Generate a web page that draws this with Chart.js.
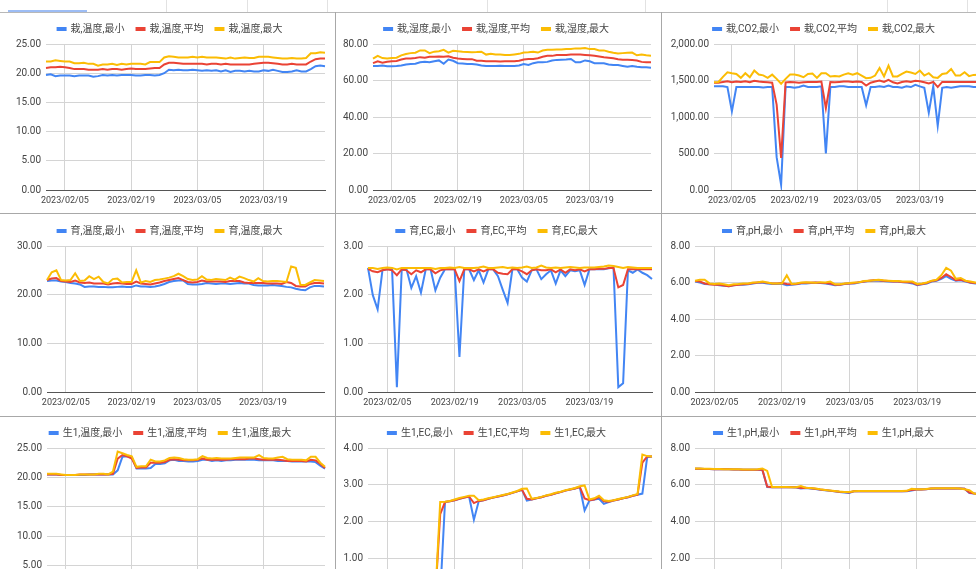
<!DOCTYPE html>
<html>
<head>
<meta charset="utf-8">
<script src="https://cdn.jsdelivr.net/npm/chart.js@4.4.1/dist/chart.umd.min.js"></script>
<style>
  html, body { margin: 0; padding: 0; width: 976px; height: 569px; overflow: hidden; background: #fff; }
  body { position: relative; }
  .rule { position: absolute; background: #a8a8a8; }
  .hdr { position: absolute; background: #e2e2e2; }
</style>
</head>
<body>
<div class="hdr" style="left:166px;top:0;width:1px;height:12px"></div>
<div class="hdr" style="left:247px;top:0;width:1px;height:12px"></div>
<div class="hdr" style="left:327px;top:0;width:1px;height:12px"></div>
<div class="hdr" style="left:487px;top:0;width:1px;height:12px"></div>
<div class="hdr" style="left:645px;top:0;width:1px;height:12px"></div>
<div class="hdr" style="left:887px;top:0;width:1px;height:12px"></div>
<div class="hdr" style="left:967px;top:0;width:1px;height:12px"></div>
<div class="rule" style="left:0;top:12px;width:976px;height:1px;background:#b8b8b8"></div>
<div class="rule" style="left:8px;top:10px;width:79px;height:2px;background:#9dbdf5"></div>
<div class="rule" style="left:335px;top:12px;width:1px;height:557px"></div>
<div class="rule" style="left:661px;top:12px;width:1px;height:557px"></div>
<div class="rule" style="left:0;top:213px;width:976px;height:1px"></div>
<div class="rule" style="left:0;top:416px;width:976px;height:1px"></div>

<script>
const dates = [
  "2023/02/01","2023/02/02","2023/02/03","2023/02/04","2023/02/05","2023/02/06","2023/02/07","2023/02/08","2023/02/09","2023/02/10",
  "2023/02/11","2023/02/12","2023/02/13","2023/02/14","2023/02/15","2023/02/16","2023/02/17","2023/02/18","2023/02/19","2023/02/20",
  "2023/02/21","2023/02/22","2023/02/23","2023/02/24","2023/02/25","2023/02/26","2023/02/27","2023/02/28","2023/03/01","2023/03/02",
  "2023/03/03","2023/03/04","2023/03/05","2023/03/06","2023/03/07","2023/03/08","2023/03/09","2023/03/10","2023/03/11","2023/03/12",
  "2023/03/13","2023/03/14","2023/03/15","2023/03/16","2023/03/17","2023/03/18","2023/03/19","2023/03/20","2023/03/21","2023/03/22",
  "2023/03/23","2023/03/24","2023/03/25","2023/03/26","2023/03/27","2023/03/28","2023/03/29","2023/03/30","2023/03/31","2023/04/01"
];
const xTickLabels = ["2023/02/05", "2023/02/19", "2023/03/05", "2023/03/19"];
const statNames = ["最小", "平均", "最大"];

// 栽 温度
const saiTempMin = [19.7,19.8,19.5,19.6,19.6,19.6,19.5,19.6,19.6,19.6, 19.4,19.5,19.7,19.6,19.7,19.6,19.7,19.7,19.7,19.6,
  19.6,19.7,19.7,19.6,19.7,20.0,20.6,20.5,20.6,20.5, 20.5,20.6,20.5,20.4,20.5,20.4,20.5,20.3,20.5,20.2,
  20.4,20.4,20.3,20.4,20.3,20.3,20.5,20.4,20.6,20.4, 20.2,20.2,20.3,20.5,20.3,20.3,20.7,21.2,21.3,21.2];
const saiTempAvg = [20.9,21.0,21.0,21.1,21.0,20.9,20.7,20.7,20.7,20.6, 20.6,20.6,20.7,20.6,20.7,20.7,20.6,20.7,20.8,20.7,
  20.7,20.7,20.8,20.9,20.9,21.5,21.8,21.8,21.7,21.6, 21.6,21.6,21.6,21.6,21.5,21.6,21.6,21.5,21.6,21.5,
  21.5,21.5,21.5,21.5,21.6,21.7,21.8,21.8,21.7,21.6, 21.5,21.5,21.6,21.5,21.5,21.5,22.0,22.4,22.5,22.5];
const saiTempMax = [22.0,22.0,22.2,22.1,22.0,22.0,21.7,21.7,21.8,21.6, 21.6,21.3,21.5,21.5,21.6,21.4,21.6,21.5,21.6,21.6,
  21.6,21.5,21.9,21.9,21.9,22.7,22.9,22.8,22.7,22.7, 22.7,22.8,22.7,22.8,22.7,22.7,22.7,22.6,22.5,22.7,
  22.5,22.6,22.7,22.6,22.6,22.8,22.8,22.8,22.7,22.6, 22.5,22.5,22.6,22.5,22.5,22.6,23.4,23.4,23.6,23.5];

// 栽 湿度
const saiHumMin = [68.0,68.0,68.2,67.8,67.8,67.9,68.2,68.8,69.0,69.2, 70.0,70.3,70.0,70.5,71.0,69.2,71.5,70.8,69.5,69.3,
  69.0,69.0,68.8,68.2,68.0,68.0,68.0,68.1,68.0,68.0, 68.0,68.2,69.0,68.5,69.5,70.0,70.0,70.2,71.0,71.3,
  71.4,71.5,71.8,70.0,70.0,71.0,70.5,69.5,69.5,69.5, 68.8,68.5,68.5,68.0,67.5,68.0,67.5,67.2,67.2,67.0];
const saiHumAvg = [69.5,70.5,69.8,70.3,70.6,70.7,71.5,72.0,72.0,72.3, 72.8,72.5,73.0,73.0,73.2,73.0,73.3,72.5,72.0,71.8,
  71.6,71.7,70.8,70.8,70.5,70.5,70.5,70.4,70.5,70.5, 70.5,70.8,71.5,71.8,71.8,72.2,73.0,73.5,73.5,74.0,
  74.0,74.0,74.2,74.2,74.2,74.0,73.8,73.6,73.2,72.8, 72.5,72.2,71.7,71.4,71.4,71.2,71.0,70.2,70.0,70.0];
const saiHumMax = [72.0,73.5,72.3,72.0,72.3,72.5,73.8,74.5,75.0,75.2, 76.5,76.5,75.0,75.8,76.0,76.8,75.3,76.3,76.0,75.7,
  75.6,75.5,75.6,75.8,74.2,74.7,74.2,74.3,74.0,74.0, 74.3,74.6,75.3,75.5,75.8,75.3,76.4,76.8,76.8,77.0,
  77.0,77.3,77.2,77.6,77.5,77.8,77.2,77.2,76.5,76.5, 75.8,75.2,74.8,75.0,75.2,75.3,73.8,74.2,73.8,73.5];

// 栽 CO2
const saiCo2Min = [1420,1420,1420,1410,1080,1410,1410,1410,1410,1410, 1410,1405,1410,1410,450,70,1410,1410,1400,1410,
  1430,1410,1410,1410,1420,500,1410,1410,1420,1420, 1410,1410,1410,1410,1160,1410,1410,1420,1410,1430,
  1410,1410,1400,1420,1410,1440,1420,1400,1060,1420, 880,1400,1410,1400,1410,1420,1420,1420,1410,1410];
const saiCo2Avg = [1470,1470,1480,1490,1475,1485,1480,1490,1475,1495, 1485,1480,1475,1470,1170,440,1475,1480,1475,1470,
  1475,1480,1480,1480,1485,1120,1480,1475,1480,1485, 1485,1480,1485,1480,1430,1470,1485,1500,1480,1510,
  1475,1460,1480,1490,1480,1495,1490,1475,1460,1480, 1410,1480,1480,1480,1480,1480,1480,1480,1480,1480];
const saiCo2Max = [1477,1480,1550,1613,1600,1590,1536,1600,1545,1636, 1581,1570,1536,1580,1522,1455,1522,1581,1581,1568,
  1545,1590,1595,1536,1600,1600,1555,1560,1555,1580, 1600,1580,1600,1568,1532,1536,1568,1672,1555,1705,
  1555,1555,1590,1622,1609,1590,1636,1568,1600,1545, 1536,1590,1600,1658,1568,1568,1613,1560,1577,1580];

// 育 温度
const ikuTempMin = [22.8,22.9,22.9,22.7,22.6,22.4,22.3,22.1,21.6,21.7, 21.7,21.6,21.6,21.5,21.5,21.6,21.7,21.6,21.6,21.9,
  21.7,21.7,21.6,21.7,21.9,22.2,22.6,22.8,22.9,22.9, 22.2,22.1,22.1,22.2,22.4,22.3,22.2,22.3,22.3,22.2,
  22.3,22.4,22.3,22.3,22.0,21.9,21.9,21.9,22.0,21.9, 21.8,21.6,21.5,21.2,21.0,20.9,21.5,21.8,21.8,21.7];
const ikuTempAvg = [23.0,23.3,23.4,22.8,22.7,22.6,22.9,22.5,22.4,22.5, 22.3,22.3,22.3,22.1,22.3,22.4,22.3,22.2,22.2,22.7,
  22.3,22.2,22.1,22.3,22.5,22.8,23.0,23.2,23.4,23.0, 22.6,22.5,22.6,22.9,22.7,22.7,22.7,22.7,22.6,22.8,
  22.8,22.8,22.5,22.4,22.4,22.4,22.4,22.3,22.3,22.3, 22.2,22.6,22.4,21.8,21.7,21.7,22.2,22.4,22.4,22.3];
const ikuTempMax = [23.0,24.6,25.0,23.0,22.9,23.0,24.4,22.8,22.9,23.8, 23.2,23.7,22.6,22.3,23.2,23.3,22.5,22.6,22.6,25.0,
  22.5,22.8,22.6,23.0,23.1,23.3,23.5,23.8,24.3,23.8, 23.2,23.0,23.1,23.8,23.1,23.0,23.2,23.1,23.0,23.5,
  23.1,23.7,23.4,23.0,22.7,23.4,22.8,22.7,22.8,22.8, 22.7,22.6,25.8,25.5,22.0,22.0,22.5,23.0,22.9,22.8];

// 育 EC
const ikuEcMin = [2.55,1.99,1.70,2.50,2.52,2.52,0.10,2.50,2.52,2.14, 2.38,2.04,2.52,2.52,2.09,2.35,2.52,2.52,2.52,0.72,
  2.52,2.52,2.30,2.50,2.25,2.52,2.52,2.38,2.10,1.83, 2.52,2.52,2.35,2.27,2.50,2.52,2.32,2.42,2.50,2.23,
  2.50,2.38,2.50,2.48,2.50,2.20,2.52,2.52,2.52,2.52, 2.54,2.56,0.10,0.18,2.50,2.45,2.52,2.45,2.40,2.32];
const ikuEcAvg = [2.53,2.48,2.46,2.50,2.52,2.50,2.40,2.52,2.50,2.42, 2.50,2.46,2.52,2.52,2.44,2.50,2.52,2.52,2.52,2.28,
  2.52,2.52,2.48,2.52,2.48,2.52,2.52,2.45,2.43,2.42, 2.52,2.52,2.48,2.42,2.50,2.52,2.50,2.50,2.52,2.46,
  2.52,2.45,2.52,2.50,2.52,2.48,2.52,2.52,2.53,2.53, 2.55,2.55,2.15,2.20,2.52,2.52,2.52,2.52,2.52,2.52];
const ikuEcMax = [2.55,2.55,2.53,2.55,2.56,2.55,2.52,2.55,2.55,2.55, 2.55,2.55,2.55,2.55,2.53,2.55,2.55,2.56,2.55,2.57,
  2.55,2.55,2.55,2.56,2.58,2.55,2.55,2.56,2.57,2.55, 2.56,2.55,2.56,2.58,2.55,2.56,2.60,2.56,2.55,2.56,
  2.55,2.56,2.57,2.56,2.55,2.56,2.56,2.56,2.57,2.58, 2.60,2.59,2.57,2.55,2.57,2.56,2.55,2.55,2.55,2.55];

// 育 pH
const ikuPhMin = [6.05,6.00,5.92,5.90,5.90,5.85,5.82,5.80,5.85,5.88, 5.88,5.90,5.95,5.98,5.98,5.95,5.92,5.92,5.93,5.85,
  5.88,5.90,5.95,5.95,5.97,5.98,5.97,5.95,5.90,5.85, 5.88,5.92,5.95,5.95,6.00,6.05,6.08,6.10,6.10,6.08,
  6.06,6.05,6.05,6.02,6.00,5.95,5.85,5.90,5.95,6.05, 6.10,6.20,6.35,6.20,6.10,6.12,6.05,5.98,5.95,5.95];
const ikuPhAvg = [6.08,6.05,5.95,5.90,5.88,5.87,5.83,5.80,5.85,5.88, 5.90,5.92,5.97,6.00,6.02,5.98,5.95,5.95,5.97,5.92,
  5.90,5.92,5.97,5.98,5.98,6.00,5.98,5.97,5.95,5.88, 5.88,5.93,5.95,5.97,6.02,6.06,6.10,6.12,6.12,6.10,
  6.08,6.06,6.06,6.03,6.02,6.00,5.88,5.92,5.97,6.08, 6.12,6.25,6.45,6.30,6.12,6.15,6.08,6.00,5.97,5.97];
const ikuPhMax = [6.10,6.15,6.15,5.95,5.92,5.95,5.90,5.85,5.90,5.92, 5.95,5.95,6.00,6.02,6.05,6.00,5.95,5.95,5.95,6.40,
  5.92,5.95,6.00,6.02,6.00,5.98,6.02,6.00,6.05,5.90, 5.90,5.95,5.97,6.00,6.02,6.08,6.10,6.12,6.15,6.12,
  6.10,6.08,6.08,6.05,6.05,6.05,5.92,5.95,6.00,6.10, 6.15,6.40,6.80,6.65,6.20,6.25,6.10,6.05,6.00,6.00];

// 生1 温度
const sei1TempMin = [20.5,20.5,20.5,20.4,20.4,20.4,20.4,20.4,20.4,20.5, 20.5,20.5,20.5,20.5,20.5,21.2,23.5,23.6,23.4,21.5,
  21.5,21.5,21.6,22.3,22.3,22.4,22.9,23.0,22.8,22.8, 22.7,22.7,22.8,23.0,23.0,22.8,22.9,22.8,22.9,22.9,
  23.0,23.0,23.0,23.0,23.0,22.9,22.9,22.9,22.9,22.8, 22.8,22.8,22.7,22.7,22.7,22.7,22.7,22.6,22.0,21.5];
const sei1TempAvg = [20.5,20.5,20.5,20.4,20.4,20.4,20.4,20.5,20.5,20.5, 20.5,20.5,20.5,20.5,20.6,23.2,23.8,23.6,23.2,21.6,
  21.7,21.7,22.5,22.5,22.5,22.6,23.0,23.1,23.0,22.9, 22.9,22.9,23.0,23.2,23.0,23.0,23.0,23.0,23.0,23.1,
  23.1,23.1,23.1,23.2,23.2,23.1,23.0,23.0,23.0,23.0, 22.9,22.8,22.8,22.8,22.8,22.7,23.0,22.9,22.3,21.6];
const sei1TempMax = [20.6,20.6,20.6,20.5,20.4,20.4,20.4,20.5,20.5,20.5, 20.5,20.6,20.6,20.5,21.0,24.4,24.1,23.8,23.6,21.8,
  21.9,21.9,23.0,22.7,22.7,22.9,23.3,23.4,23.3,23.1, 23.0,23.0,23.1,23.6,23.3,23.2,23.3,23.2,23.2,23.2,
  23.3,23.4,23.4,23.4,23.4,23.8,23.3,23.2,23.2,23.4, 23.5,23.1,23.0,23.0,23.0,22.9,23.5,23.5,22.5,21.8];

// 生1 EC
const sei1EcMin = [0,0,0,0,0,0,0,0,0,0, 0,0,0,0,0,0,2.53,2.55,2.58,2.62,
  2.65,2.68,2.05,2.55,2.58,2.62,2.65,2.68,2.71,2.74, 2.78,2.82,2.86,2.57,2.60,2.63,2.66,2.70,2.73,2.77,
  2.80,2.84,2.87,2.90,2.94,2.30,2.57,2.60,2.62,2.48, 2.53,2.57,2.60,2.63,2.66,2.70,2.73,2.76,3.75,3.77];
const sei1EcAvg = [0,0,0,0,0,0,0,0,0,0, 0,0,0,0,0,2.20,2.53,2.55,2.58,2.62,
  2.65,2.68,2.50,2.56,2.58,2.62,2.65,2.68,2.71,2.74, 2.78,2.82,2.86,2.62,2.60,2.63,2.66,2.70,2.73,2.77,
  2.80,2.84,2.87,2.90,2.94,2.63,2.58,2.60,2.67,2.55, 2.54,2.57,2.60,2.63,2.66,2.70,2.73,3.60,3.77,3.77];
const sei1EcMax = [0,0,0,0,0,0,0,0,0,0, 0,0,0,0,0,2.53,2.54,2.56,2.60,2.64,
  2.67,2.70,2.70,2.58,2.60,2.63,2.66,2.69,2.72,2.75, 2.79,2.83,2.89,2.90,2.62,2.64,2.67,2.71,2.74,2.78,
  2.81,2.85,2.88,2.91,2.96,2.98,2.60,2.63,2.70,2.58, 2.56,2.58,2.61,2.64,2.67,2.71,2.75,3.82,3.78,3.77];

// 生1 pH
const sei1PhMin = [6.87,6.87,6.86,6.86,6.85,6.85,6.84,6.84,6.83,6.83, 6.82,6.82,6.82,6.82,6.80,5.88,5.87,5.87,5.87,5.87,
  5.86,5.85,5.80,5.82,5.80,5.77,5.73,5.70,5.67,5.64, 5.61,5.58,5.55,5.64,5.65,5.65,5.65,5.65,5.65,5.65,
  5.65,5.64,5.64,5.64,5.65,5.68,5.74,5.74,5.75,5.78, 5.79,5.80,5.80,5.80,5.80,5.80,5.78,5.55,5.52,5.50];
const sei1PhAvg = [6.87,6.87,6.86,6.86,6.85,6.85,6.84,6.84,6.83,6.83, 6.82,6.82,6.82,6.82,6.82,5.90,5.87,5.87,5.87,5.87,
  5.86,5.86,5.82,5.83,5.81,5.78,5.74,5.71,5.68,5.65, 5.62,5.60,5.58,5.64,5.65,5.65,5.65,5.65,5.65,5.65,
  5.65,5.65,5.65,5.65,5.66,5.72,5.74,5.74,5.76,5.79, 5.80,5.80,5.80,5.80,5.80,5.80,5.78,5.58,5.52,5.50];
const sei1PhMax = [6.88,6.88,6.87,6.87,6.86,6.86,6.85,6.85,6.84,6.84, 6.83,6.83,6.83,6.84,6.88,6.75,5.88,5.88,5.88,5.88,
  5.87,5.87,5.93,5.84,5.82,5.79,5.75,5.72,5.69,5.66, 5.63,5.61,5.60,5.65,5.66,5.66,5.66,5.66,5.66,5.66,
  5.66,5.66,5.66,5.66,5.67,5.78,5.75,5.75,5.77,5.80, 5.81,5.81,5.81,5.81,5.81,5.80,5.75,5.70,5.52,5.50];

const lineColors = ["#4285f4", "#ea4335", "#fbbc04"];

// where each small chart sits on the page
const panels = [
  { prefix: "栽,温度", series: [saiTempMin, saiTempAvg, saiTempMax], yMax: 25, yStep: 5, left: 0, top: 10, w: 327, h: 200, padL: 15, yW: 31 },
  { prefix: "栽,湿度", series: [saiHumMin, saiHumAvg, saiHumMax], yMax: 80, yStep: 20, left: 336, top: 10, w: 317, h: 200, padL: 6, yW: 31 },
  { prefix: "栽,CO2", series: [saiCo2Min, saiCo2Avg, saiCo2Max], yMax: 2000, yStep: 500, left: 661, top: 10, w: 319, h: 200, padL: 9, yW: 44 },
  { prefix: "育,温度", series: [ikuTempMin, ikuTempAvg, ikuTempMax], yMax: 30, yStep: 10, left: 0, top: 212, w: 326, h: 200, padL: 16, yW: 31 },
  { prefix: "育,EC", series: [ikuEcMin, ikuEcAvg, ikuEcMax], yMax: 3, yStep: 1, left: 336, top: 212, w: 318, h: 200, padL: 6, yW: 26 },
  { prefix: "育,pH", series: [ikuPhMin, ikuPhAvg, ikuPhMax], yMax: 8, yStep: 2, left: 661, top: 212, w: 321, h: 200, padL: 8, yW: 26 },
  { prefix: "生1,温度", series: [sei1TempMin, sei1TempAvg, sei1TempMax], yMax: 25, yStep: 5, left: 0, top: 414, w: 327, h: 201, padL: 16, yW: 31 },
  { prefix: "生1,EC", series: [sei1EcMin, sei1EcAvg, sei1EcMax], yMax: 4, yStep: 1, left: 336, top: 414, w: 318, h: 201, padL: 6, yW: 26 },
  { prefix: "生1,pH", series: [sei1PhMin, sei1PhAvg, sei1PhMax], yMax: 8, yStep: 2, left: 661, top: 414, w: 320, h: 201, padL: 8, yW: 26 },
];

Chart.defaults.font.family = "Roboto, 'Noto Sans CJK JP', sans-serif";
Chart.defaults.color = "#444";

function fmt(v) {
  return v.toLocaleString("en-US", { minimumFractionDigits: 2, maximumFractionDigits: 2 });
}

panels.forEach((p) => {
  const cv = document.createElement("canvas");
  cv.width = p.w;
  cv.height = p.h;
  cv.style.cssText = `position:absolute;left:${p.left}px;top:${p.top}px;width:${p.w}px;height:${p.h}px`;
  document.body.appendChild(cv);

  new Chart(cv.getContext("2d"), {
    type: "line",
    data: {
      labels: dates,
      datasets: p.series.map((vals, i) => ({
        label: p.prefix + "," + statNames[i],
        data: vals,
        borderColor: lineColors[i],
        backgroundColor: lineColors[i],
        borderWidth: 2,
        pointRadius: 0,
        tension: 0,
        order: 2 - i,
      })),
    },
    options: {
      responsive: false,
      animation: false,
      layout: { padding: { left: p.padL, right: 2, top: 2, bottom: 0 } },
      plugins: {
        tooltip: { enabled: false },
        legend: {
          labels: {
            boxWidth: 8,
            boxHeight: 2,
            padding: 12,
            color: "#444",
            font: { size: 10 },
            sort: (a, b) => a.datasetIndex - b.datasetIndex,
          },
        },
      },
      scales: {
        x: {
          grid: { color: "#d4d4d4", drawTicks: false },
          border: { display: true, color: "#555" },
          ticks: { font: { size: 9 }, padding: 5, maxRotation: 0, autoSkip: false },
          afterBuildTicks: (s) => {
            s.ticks = xTickLabels.map((l) => ({ value: dates.indexOf(l) }));
          },
          afterFit: (s) => { s.height = 20; },
        },
        y: {
          min: 0,
          max: p.yMax,
          grid: {
            drawTicks: false,
            color: (ctx) => (ctx.tick && ctx.tick.value === 0 ? "rgba(0,0,0,0)" : "#d4d4d4"),
          },
          border: { display: false },
          ticks: { stepSize: p.yStep, padding: 5, font: { size: 10 }, callback: (v) => fmt(v) },
          afterFit: (s) => { s.width = p.yW; },
        },
      },
    },
  });
});
</script>
</body>
</html>
